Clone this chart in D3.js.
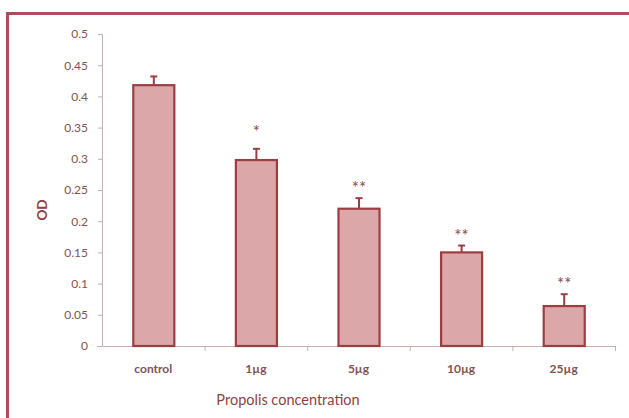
<!DOCTYPE html>
<html>
<head>
<meta charset="utf-8">
<script src="https://cdn.jsdelivr.net/npm/d3@7"></script>
<style>
  html, body { margin: 0; padding: 0; background: #fff; }
  svg { display: block; }
</style>
</head>
<body>
<svg id="chart" width="629" height="418"></svg>
<script>
// Propolis concentration vs optical density
const categories = ["control", "1µg", "5µg", "10µg", "25µg"];
const odValues   = [0.418, 0.298, 0.220, 0.150, 0.064];
const odErrors   = [0.014, 0.018, 0.017, 0.011, 0.019];
const marks      = ["", "*", "**", "**", "**"];
const yTicks     = [0, 0.05, 0.1, 0.15, 0.2, 0.25, 0.3, 0.35, 0.4, 0.45, 0.5];

const svg = d3.select("#chart");
const font = "Lato, 'Open Sans', sans-serif";

// outer frame
svg.append("rect")
  .attr("x", 7.5).attr("y", 13.5)
  .attr("width", 640).attr("height", 420)
  .attr("fill", "#fff")
  .attr("stroke", "#ad4d5c").attr("stroke-width", 3);

const plotLeft = 102, plotRight = 615, plotTop = 34, plotBottom = 346;

const x = d3.scaleBand().domain(categories).range([plotLeft, plotRight]).paddingInner(0.6).paddingOuter(0.3);
const band = d3.scaleBand().domain(categories).range([plotLeft, plotRight]);
const y = d3.scaleLinear().domain([0, 0.5]).range([plotBottom, plotTop]);

const axisColor = "#c9aeb0";
const tickText = "#835252";

// y axis
const yAxis = svg.append("g")
  .attr("transform", `translate(${plotLeft},0)`)
  .call(d3.axisLeft(y).tickValues(yTicks).tickFormat(d => d === 0 ? "0" : String(d)).tickSize(4).tickPadding(10));
yAxis.select(".domain").attr("stroke", axisColor).attr("d", `M-4,${plotTop + 0.5}H0.5V${plotBottom + 0.5}`);
yAxis.selectAll(".tick line").attr("stroke", axisColor);
yAxis.selectAll(".tick text")
  .attr("fill", tickText).attr("font-family", font).attr("font-size", 12);

// x axis with separators between categories
const xg = svg.append("g");
xg.append("line")
  .attr("x1", plotLeft - 5).attr("x2", plotRight)
  .attr("y1", plotBottom + 0.5).attr("y2", plotBottom + 0.5)
  .attr("stroke", axisColor);
xg.selectAll("line.sep")
  .data(categories)
  .join("line")
  .attr("class", "sep")
  .attr("x1", d => band(d) + band.bandwidth() + 0.5)
  .attr("x2", d => band(d) + band.bandwidth() + 0.5)
  .attr("y1", plotBottom).attr("y2", plotBottom + 5)
  .attr("stroke", axisColor);

xg.selectAll("text.cat")
  .data(categories)
  .join("text")
  .attr("class", "cat")
  .attr("x", d => band(d) + band.bandwidth() / 2)
  .attr("y", 373)
  .attr("text-anchor", "middle")
  .attr("font-family", font).attr("font-size", 12).attr("font-weight", "bold")
  .attr("fill", tickText)
  .text(d => d);

// bars
const barFill = "#dba7a9", barStroke = "#9c3d42";
svg.selectAll("rect.bar")
  .data(categories)
  .join("rect")
  .attr("class", "bar")
  .attr("x", d => x(d) + 0.5)
  .attr("y", (d, i) => y(odValues[i]))
  .attr("width", x.bandwidth())
  .attr("height", (d, i) => y(0) - y(odValues[i]))
  .attr("fill", barFill)
  .attr("stroke", barStroke).attr("stroke-width", 2.2);

// error bars (upper only)
const err = svg.append("g").attr("stroke", barStroke).attr("stroke-width", 2);
categories.forEach((c, i) => {
  const cx = x(c) + x.bandwidth() / 2 + 0.5;
  err.append("line")
    .attr("x1", cx).attr("x2", cx)
    .attr("y1", y(odValues[i])).attr("y2", y(odValues[i] + odErrors[i]));
  err.append("line")
    .attr("x1", cx - 3.5).attr("x2", cx + 3.5)
    .attr("y1", y(odValues[i] + odErrors[i])).attr("y2", y(odValues[i] + odErrors[i]));
});

// significance markers
svg.selectAll("text.sig")
  .data(categories)
  .join("text")
  .attr("class", "sig")
  .attr("x", d => x(d) + x.bandwidth() / 2 + 0.5)
  .attr("y", (d, i) => y(odValues[i] + odErrors[i]) - (marks[i].length === 1 ? 11 : 4))
  .attr("text-anchor", "middle")
  .attr("font-family", font).attr("font-size", 17)
  .attr("fill", "#8a4a4a")
  .text((d, i) => marks[i]);

// axis titles
svg.append("text")
  .attr("transform", "translate(47,210) rotate(-90)")
  .attr("text-anchor", "middle")
  .attr("font-family", font).attr("font-size", 13.5).attr("font-weight", "bold")
  .attr("fill", "#8e3f45")
  .text("OD");

svg.append("text")
  .attr("x", 288).attr("y", 405)
  .attr("text-anchor", "middle")
  .attr("font-family", font).attr("font-size", 14.5)
  .attr("fill", "#8e3f45")
  .text("Propolis concentration");
</script>
</body>
</html>
